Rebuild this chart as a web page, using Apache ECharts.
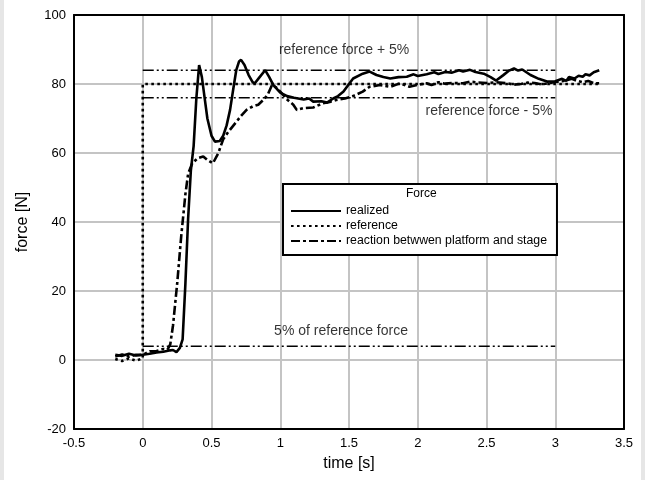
<!DOCTYPE html>
<html>
<head>
<meta charset="utf-8">
<script src="https://cdn.jsdelivr.net/npm/echarts@6/dist/echarts.min.js"></script>
<style>
  html, body { margin: 0; padding: 0; background: #e6e6e6; }
  #chart { width: 637px; height: 480px; margin-left: 4px; background: #fff; }
</style>
</head>
<body>
<div id="chart"></div>
<script>
// time [s], force [N]
const realized = [
  [-0.2, 1.5], [-0.15, 1.2], [-0.1, 1.8], [-0.05, 1.3], [0, 1.5], [0.05, 1.8], [0.1, 2.2],
  [0.15, 2.4], [0.2, 2.8], [0.22, 2.9], [0.245, 2.3], [0.27, 3.5], [0.29, 6], [0.31, 22],
  [0.33, 41], [0.35, 55], [0.37, 62], [0.39, 76], [0.41, 85.5], [0.43, 82], [0.45, 76],
  [0.47, 70], [0.5, 65], [0.525, 63.3], [0.56, 63.5], [0.585, 65], [0.61, 68], [0.635, 72.5],
  [0.66, 79], [0.68, 84], [0.7, 86.5], [0.715, 87], [0.74, 85.5], [0.77, 82.6], [0.8, 80.5],
  [0.815, 80.2], [0.85, 82], [0.89, 84], [0.92, 82], [0.95, 79.7], [1.0, 77.5], [1.05, 76.5],
  [1.1, 76], [1.17, 75.5], [1.21, 75.8], [1.24, 74.9], [1.3, 75], [1.34, 74.6], [1.385, 75.8],
  [1.42, 76.5], [1.46, 77.8], [1.5, 80], [1.53, 81.6], [1.6, 83], [1.65, 83.6], [1.7, 82.6],
  [1.75, 82], [1.8, 81.6], [1.86, 82], [1.92, 82.1], [1.97, 82.8], [2.0, 82.3], [2.065, 82.8],
  [2.12, 83.4], [2.15, 82.9], [2.2, 83.5], [2.25, 83.3], [2.3, 84], [2.33, 83.6], [2.38, 84.1],
  [2.42, 83.5], [2.48, 83], [2.53, 82], [2.57, 81], [2.62, 82.5], [2.66, 83.8], [2.7, 84.5],
  [2.73, 83.9], [2.76, 84.2], [2.82, 82.6], [2.88, 81.5], [2.94, 80.7], [3.0, 80.8], [3.05, 81.5],
  [3.08, 80.9], [3.1, 82], [3.14, 81.6], [3.17, 82.4], [3.2, 82.1], [3.22, 82.8], [3.25, 82.5],
  [3.28, 83.4], [3.32, 84]
];
const reference = [
  [-0.2, 0.3], [-0.15, -0.3], [-0.1, 0.5], [-0.05, -0.2], [0, 0.5], [0, 80], [3.33, 80]
];
const reaction = [
  [-0.2, 1.0], [-0.15, 1.6], [-0.1, 1.0], [-0.05, 1.5], [0, 1.5], [0.05, 2.5], [0.1, 2.6],
  [0.15, 3.2], [0.18, 3.0], [0.2, 4.5], [0.22, 10], [0.25, 22], [0.28, 36], [0.31, 48],
  [0.33, 54], [0.36, 57], [0.4, 58.5], [0.44, 59], [0.47, 58], [0.51, 57], [0.55, 60],
  [0.585, 64], [0.62, 66], [0.65, 67.5], [0.68, 69], [0.72, 71], [0.755, 72.5], [0.8, 73.5],
  [0.84, 74], [0.88, 75.5], [0.91, 77], [0.94, 79.7], [0.97, 79], [1.0, 77.8], [1.05, 75.5],
  [1.095, 74], [1.12, 72.5], [1.17, 73], [1.24, 73.2], [1.31, 74.4], [1.36, 74.8], [1.41, 75.4],
  [1.47, 75.8], [1.53, 76.5], [1.6, 77.8], [1.65, 79.2], [1.725, 79.7], [1.8, 79.2], [1.87, 80.2],
  [1.94, 79.2], [2.0, 79.8], [2.065, 80.2], [2.1, 79.7], [2.15, 80.5], [2.2, 80.1], [2.25, 80.3],
  [2.33, 80.2], [2.38, 80.7], [2.42, 80.5], [2.5, 80.3], [2.57, 80.5], [2.65, 80.2], [2.7, 79.8],
  [2.75, 80], [2.8, 80.4], [2.85, 80.3], [2.9, 79.9], [2.95, 80.2], [3.0, 80.6], [3.05, 80.8],
  [3.12, 81.5], [3.16, 80.9], [3.2, 80.5], [3.24, 80.9], [3.28, 80.2], [3.32, 80.2]
];
const refPlus5 = [[0, 84], [3, 84]];
const refMinus5 = [[0, 76], [3, 76]];
const fivePercent = [[0, 4], [3, 4]];
const annotations = [
  { value: [1.464, 89.9], name: 'reference force + 5%' },
  { value: [2.518, 72.2], name: 'reference force - 5%' },
  { value: [1.442, 8.4], name: '5% of reference force' }
];
const legendNames = ['realized', 'reference', 'reaction betwwen platform and stage'];

const font = 'Liberation Sans, Arial, sans-serif';
const chart = echarts.init(document.getElementById('chart'));

const thinDashDot = { color: '#000', width: 1.5, type: [11, 3, 2, 3, 2, 3] };

chart.setOption({
  animation: false,
  textStyle: { fontFamily: font },
  grid: { left: 70, right: 17, top: 15, bottom: 51 },
  graphic: [{
    type: 'text', left: 402, top: 188, z: 100,
    style: { text: 'Force', font: '12px ' + font, fill: '#000' }
  }],
  legend: {
    data: legendNames,
    orient: 'vertical',
    left: 279, top: 184,
    padding: [21, 10, 8, 7],
    borderColor: '#000', borderWidth: 2,
    backgroundColor: '#fff',
    itemWidth: 50, itemHeight: 10, itemGap: 3,
    itemStyle: { opacity: 0 },
    selectedMode: false,
    textStyle: { fontFamily: font, fontSize: 12.3, color: '#000' }
  },
  xAxis: [{
    type: 'value', min: -0.5, max: 3.5, interval: 0.5,
    name: 'time [s]', nameLocation: 'middle', nameGap: 27,
    nameTextStyle: { fontSize: 16, color: '#000', fontFamily: font },
    axisLine: { show: true, onZero: false, lineStyle: { color: '#000', width: 2 } },
    axisTick: { show: false },
    axisLabel: { color: '#000', fontSize: 13, margin: 8, fontFamily: font },
    splitLine: { show: true, lineStyle: { color: '#c4c4c4', width: 2 } }
  }, {
    type: 'value', position: 'top', min: -0.5, max: 3.5,
    axisLine: { show: true, onZero: false, lineStyle: { color: '#000', width: 2 } },
    axisTick: { show: false }, axisLabel: { show: false }, splitLine: { show: false }
  }],
  yAxis: [{
    type: 'value', min: -20, max: 100, interval: 20,
    name: 'force [N]', nameLocation: 'middle', nameGap: 43,
    nameTextStyle: { fontSize: 16, color: '#000', fontFamily: font },
    axisLine: { show: true, onZero: false, lineStyle: { color: '#000', width: 2 } },
    axisTick: { show: false },
    axisLabel: { color: '#000', fontSize: 13, margin: 8, fontFamily: font },
    splitLine: { show: true, lineStyle: { color: '#c4c4c4', width: 2 } }
  }, {
    type: 'value', position: 'right', min: -20, max: 100,
    axisLine: { show: true, onZero: false, lineStyle: { color: '#000', width: 2 } },
    axisTick: { show: false }, axisLabel: { show: false }, splitLine: { show: false }
  }],
  series: [
    { name: 'ref+5', type: 'line', data: refPlus5, symbol: 'none', lineStyle: thinDashDot, z: 2 },
    { name: 'ref-5', type: 'line', data: refMinus5, symbol: 'none', lineStyle: thinDashDot, z: 2 },
    { name: '5pct', type: 'line', data: fivePercent, symbol: 'none', lineStyle: thinDashDot, z: 2 },
    {
      name: 'reference', type: 'line', data: reference, symbol: 'none', z: 3,
      itemStyle: { color: '#000' },
      lineStyle: { color: '#000', width: 2.6, type: [2.6, 3.4] }
    },
    {
      name: 'reaction betwwen platform and stage', type: 'line', data: reaction, symbol: 'none', z: 4,
      itemStyle: { color: '#000' },
      lineStyle: { color: '#000', width: 2.6, type: [9, 3, 3, 3] }
    },
    {
      name: 'realized', type: 'line', data: realized, symbol: 'none', z: 5,
      itemStyle: { color: '#000' },
      lineStyle: { color: '#000', width: 2.6 }
    },
    {
      name: 'notes', type: 'scatter', data: annotations, symbolSize: 0, z: 6,
      label: {
        show: true, position: 'inside', formatter: p => p.name,
        color: '#000', fontSize: 14, fontFamily: font
      }
    }
  ]
});
</script>
</body>
</html>
